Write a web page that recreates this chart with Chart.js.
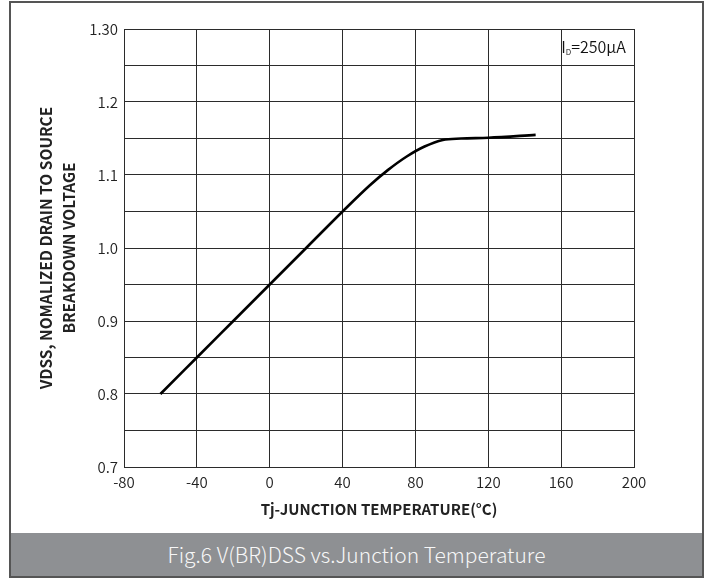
<!DOCTYPE html>
<html>
<head>
<meta charset="utf-8">
<script src="https://cdn.jsdelivr.net/npm/chart.js@4"></script>
<style>
  html, body { margin: 0; padding: 0; background: #fff; }
  body { width: 713px; height: 580px; position: relative; overflow: hidden; font-family: "Noto Sans CJK SC", "Noto Sans", sans-serif; }
  #chart { position: absolute; left: 0; top: 0; }
  #frame { position: absolute; left: 9px; top: 1px; width: 695px; height: 577px; box-sizing: border-box; border: 2px solid #555; pointer-events: none; }
  #caption { position: absolute; left: 11px; top: 533px; width: 691px; height: 43px; background: #8e9093; color: #f7f7f7; font-size: 21px; font-weight: 300; line-height: 43px; text-align: center; }
  #note { position: absolute; font-size: 16px; font-weight: 350; color: #111; white-space: nowrap; line-height: 1; }
  #note sub { font-size: 8px; vertical-align: -2px; }
</style>
</head>
<body>
<canvas id="chart" width="713" height="532"></canvas>
<div id="frame"></div>
<div id="caption">Fig.6 V(BR)DSS vs.Junction Temperature</div>
<div id="note">I<sub>D</sub>=250μA</div>
<script>
// curve
const temps = [-60, -40, -20, 0, 20, 40, 55, 65, 75, 85, 95, 105, 120, 146]
const bvdss = [0.80, 0.85, 0.90, 0.95, 1.00, 1.05, 1.086, 1.107, 1.125, 1.139, 1.148, 1.150, 1.151, 1.155]

const xTickLabels = ['-80', '-40', '0', '40', '80', '120', '160', '200']
const yTickLabels = ['0.7', '', '0.8', '', '0.9', '', '1.0', '', '1.1', '', '1.2', '', '1.30']

const xTitle = 'Tj-JUNCTION TEMPERATURE(°C)'
const yTitle = ['VDSS, NOMALIZED DRAIN TO SOURCE', 'BREAKDOWN VOLTAGE']
const noteAt = { x: 160, y: 1.275 }

const fontFamily = '"Noto Sans CJK SC", "Noto Sans", sans-serif'
const gridColor = '#2b2b2b'

// place the I_D note from the chart scales
const notePlugin = {
  id: 'notePlugin',
  afterRender(chart) {
    const note = document.getElementById('note')
    const px = chart.scales.x.getPixelForValue(noteAt.x)
    const py = chart.scales.y.getPixelForValue(noteAt.y)
    note.style.left = px + 'px'
    note.style.top = (py - note.offsetHeight / 2) + 'px'
  },
}

new Chart(document.getElementById('chart'), {
  type: 'line',
  data: {
    datasets: [
      {
        data: temps.map((t, i) => ({ x: t, y: bvdss[i] })),
        borderColor: '#000',
        borderWidth: 2.6,
        pointRadius: 0,
        cubicInterpolationMode: 'monotone',
        fill: false,
      },
    ],
  },
  options: {
    responsive: false,
    animation: false,
    layout: { padding: { top: 29, right: 79, left: 29, bottom: 10 } },
    plugins: {
      legend: { display: false },
      tooltip: { enabled: false },
    },
    scales: {
      x: {
        type: 'linear',
        min: -80,
        max: 200,
        afterFit(scale) { scale.height = 55 },
        ticks: {
          stepSize: 40,
          padding: 6,
          color: '#222',
          font: { family: fontFamily, size: 15, weight: 350 },
          maxRotation: 0,
          callback: (v, i) => xTickLabels[i],
        },
        grid: { color: gridColor, lineWidth: 1, drawTicks: false },
        border: { color: gridColor, width: 1 },
        title: {
          display: true,
          text: xTitle,
          color: '#222',
          padding: { top: 0, bottom: 4 },
          font: { family: fontFamily, size: 15, weight: 'bold' },
        },
      },
      y: {
        min: 0.7,
        max: 1.3,
        afterFit(scale) { scale.width = 95 },
        ticks: {
          stepSize: 0.05,
          padding: 6,
          color: '#222',
          autoSkip: false,
          font: { family: fontFamily, size: 15, weight: 350 },
          callback: (v, i) => yTickLabels[i],
        },
        grid: { color: gridColor, lineWidth: 1, drawTicks: false },
        border: { color: gridColor, width: 1 },
        title: {
          display: true,
          text: yTitle,
          color: '#222',
          padding: { top: 5, bottom: 0 },
          font: { family: fontFamily, size: 15.5, weight: 'bold', lineHeight: 1.5 },
        },
      },
    },
  },
  plugins: [notePlugin],
})
</script>
</body>
</html>
